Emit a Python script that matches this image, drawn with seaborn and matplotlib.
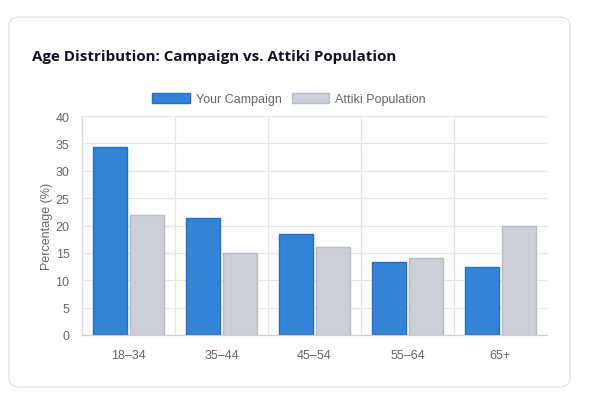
import matplotlib
matplotlib.use("Agg")
import matplotlib.pyplot as plt
from matplotlib.patches import FancyBboxPatch, Patch
import seaborn as sns
import pandas as pd

# data
age_groups = ["18–34", "35–44", "45–54", "55–64", "65+"]
campaign = [34.3, 21.4, 18.4, 13.3, 12.4]
attiki = [22, 15, 16, 14, 20]
series_names = ["Your Campaign", "Attiki Population"]

df = pd.DataFrame({
    "Age": age_groups * 2,
    "Percentage": campaign + attiki,
    "Series": [series_names[0]] * len(age_groups) + [series_names[1]] * len(age_groups),
})

sns.set_theme(style="white")
plt.rcParams["font.family"] = ["Liberation Sans", "DejaVu Sans"]

fill_colors = {series_names[0]: "#3384d6", series_names[1]: "#cdcfd6"}
edge_colors = {series_names[0]: "#1f70cf", series_names[1]: "#b9bbc3"}

fig = plt.figure(figsize=(5.95, 4.06), dpi=100)
W, H = 595, 406

# card background
card = FancyBboxPatch((9 / W, 18 / H), 561 / W, 370 / H,
                      boxstyle="round,pad=0,rounding_size=0.02",
                      transform=fig.transFigure, facecolor="white",
                      edgecolor="#e2e3ea", linewidth=1.0, zorder=0)
fig.patches.append(card)

fig.text(32 / W, 1 - 57 / H, "Age Distribution: Campaign vs. Attiki Population",
         fontsize=10.9, fontweight="bold", color="#111122",
         family=["Open Sans", "DejaVu Sans"], va="center", ha="left", zorder=5)

ax = fig.add_axes([82 / W, 70 / H, 465 / W, 219 / H])
ax.set_zorder(3)
ax.set_facecolor("none")

sns.barplot(data=df, x="Age", y="Percentage", hue="Series", order=age_groups,
            hue_order=series_names, palette=fill_colors, width=0.8, gap=0.1,
            saturation=1, legend=False, ax=ax, zorder=3)

# bar edges
n = len(age_groups)
for i, bar in enumerate(ax.patches[:2 * n]):
    name = series_names[i // n]
    bar.set_edgecolor(edge_colors[name])
    bar.set_linewidth(1.0)

ax.set_ylim(0, 40)
ax.set_xlim(-0.5, n - 0.5)
ax.set_yticks(range(0, 41, 5))
ax.set_xticks(range(n))
ax.set_xticks([i - 0.5 for i in range(n + 1)], minor=True)
ax.set_xticklabels(age_groups)

grid_c = "#e5e5e5"
ax.set_axisbelow(True)
ax.yaxis.grid(True, color=grid_c, linewidth=0.9)
ax.xaxis.grid(True, which="minor", color=grid_c, linewidth=0.9)
ax.xaxis.grid(False, which="major")

ax.tick_params(axis="y", which="major", length=6, color=grid_c, width=0.9,
               labelsize=9, labelcolor="#666666", pad=3)
ax.tick_params(axis="x", which="major", length=0, labelsize=9,
               labelcolor="#666666", pad=10)
ax.tick_params(axis="x", which="minor", length=8, color=grid_c, width=0.9)

for side in ["top", "right"]:
    ax.spines[side].set_visible(False)
ax.spines["left"].set_color("#d9d9d9")
ax.spines["bottom"].set_color("#cfcfcf")
ax.spines["left"].set_linewidth(0.9)
ax.spines["bottom"].set_linewidth(0.9)

ax.set_xlabel("")
ax.set_ylabel("Percentage (%)", fontsize=9, color="#666666", labelpad=2)

handles = [Patch(facecolor=fill_colors[s], edgecolor=edge_colors[s], linewidth=1.0)
           for s in series_names]
leg = fig.legend(handles, series_names, loc="center", bbox_to_anchor=(289 / W, 1 - 100 / H),
                 ncol=2, frameon=False, fontsize=9, labelcolor="#666666",
                 handlelength=3.0, handleheight=0.9, handletextpad=0.5, columnspacing=0.8)
leg.set_zorder(5)

fig.savefig("out.png", dpi=100, facecolor="white")
